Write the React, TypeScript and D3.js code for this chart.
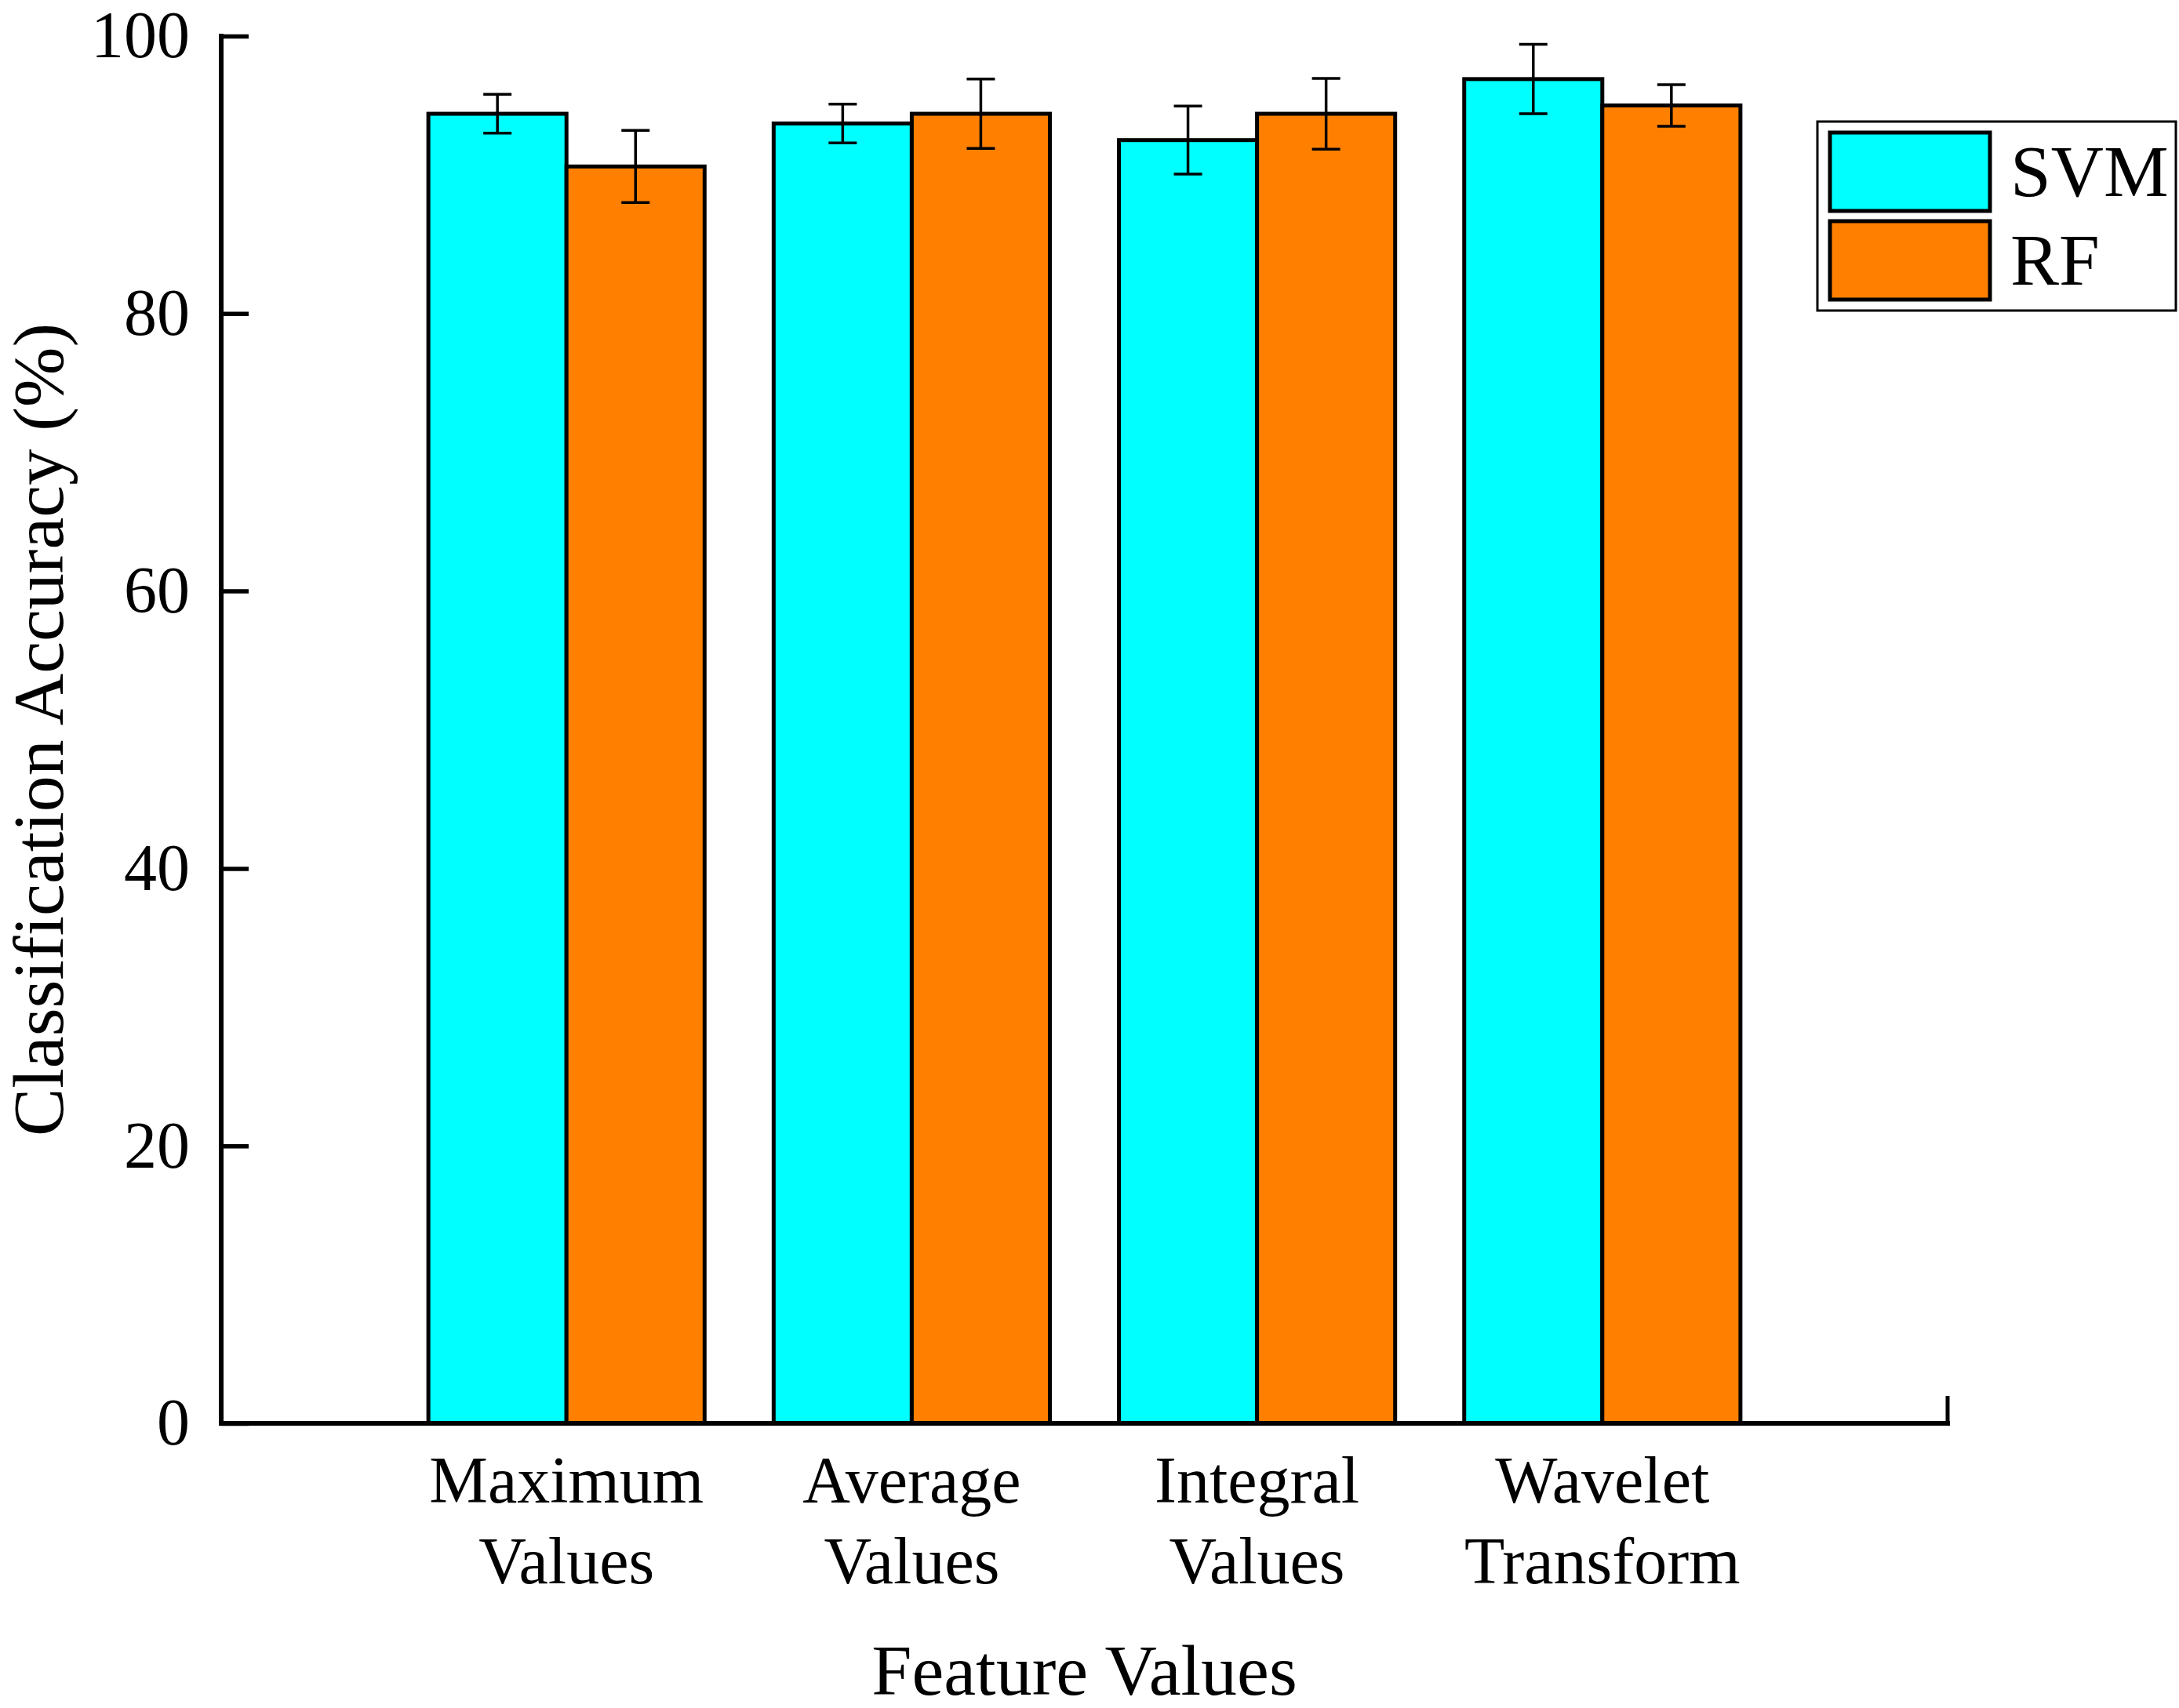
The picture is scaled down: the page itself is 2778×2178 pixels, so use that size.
import React, { useEffect, useRef } from 'react';
import * as d3 from 'd3';

// Feature groups (two-line tick labels)
const categories: string[][] = [
  ['Maximum', 'Values'],
  ['Average', 'Values'],
  ['Integral', 'Values'],
  ['Wavelet', 'Transform'],
];

const svmMean = [94.4, 93.7, 92.5, 96.9];
const svmErr = [1.4, 1.4, 2.45, 2.5];
const rfMean = [90.6, 94.4, 94.4, 95.0];
const rfErr = [2.6, 2.5, 2.55, 1.5];

const seriesNames = ['SVM', 'RF'];
const seriesColors = ['#00FFFF', '#FF8000'];
const yTicks = [0, 20, 40, 60, 80, 100];

const FONT = "'Liberation Serif', 'Times New Roman', serif";

function App() {
  const svgRef = useRef<SVGSVGElement>(null);
  const width = 2778;
  const height = 2178;

  useEffect(() => {
    if (!svgRef.current) return;
    const svg = d3.select(svgRef.current);
    svg.selectAll('*').remove();

    const left = 282;
    const right = 2483;
    const top = 46;
    const bottom = 1815;

    const x = d3.scaleLinear().domain([0, 5]).range([left, right]);
    const y = d3.scaleLinear().domain([0, 100]).range([bottom, top]);
    const barW = 0.4;

    const series = [
      { name: seriesNames[0], mean: svmMean, err: svmErr, color: seriesColors[0], off: -barW },
      { name: seriesNames[1], mean: rfMean, err: rfErr, color: seriesColors[1], off: 0 },
    ];

    // Bars
    series.forEach(s => {
      svg.append('g')
        .selectAll('rect')
        .data(s.mean)
        .enter().append('rect')
        .attr('x', (_, i) => x(i + 1 + s.off))
        .attr('y', d => y(d))
        .attr('width', x(barW) - x(0))
        .attr('height', d => y(0) - y(d))
        .attr('fill', s.color)
        .attr('stroke', '#000')
        .attr('stroke-width', 5);
    });

    // Error bars
    const cap = 18;
    series.forEach(s => {
      const g = svg.append('g').attr('stroke', '#000').attr('stroke-width', 3.5);
      s.mean.forEach((m, i) => {
        const cx = x(i + 1 + s.off + barW / 2);
        g.append('line').attr('x1', cx).attr('x2', cx).attr('y1', y(m + s.err[i])).attr('y2', y(m - s.err[i]));
        g.append('line').attr('x1', cx - cap).attr('x2', cx + cap).attr('y1', y(m + s.err[i])).attr('y2', y(m + s.err[i]));
        g.append('line').attr('x1', cx - cap).attr('x2', cx + cap).attr('y1', y(m - s.err[i])).attr('y2', y(m - s.err[i]));
      });
    });

    // Y axis (ticks pointing inward)
    const yAxis = svg.append('g')
      .attr('transform', `translate(${left},0)`)
      .call(d3.axisLeft(y).tickValues(yTicks).tickSizeInner(-35).tickSizeOuter(0).tickPadding(40));
    yAxis.select('.domain').attr('stroke-width', 6).attr('d', `M0,${bottom + 3}V${top - 3}`);
    yAxis.selectAll('.tick line').attr('stroke-width', 5.5);
    yAxis.selectAll('.tick text')
      .style('font-family', FONT)
      .style('font-size', '84px')
      .attr('fill', '#000');

    // X axis line with end tick
    svg.append('line')
      .attr('x1', left - 3).attr('x2', right + 3)
      .attr('y1', bottom).attr('y2', bottom)
      .attr('stroke', '#000').attr('stroke-width', 6);
    svg.append('line')
      .attr('x1', right).attr('x2', right)
      .attr('y1', bottom).attr('y2', bottom - 35)
      .attr('stroke', '#000').attr('stroke-width', 5);

    // Category labels
    const cat = svg.append('g')
      .style('font-family', FONT)
      .style('font-size', '84px')
      .attr('text-anchor', 'middle');
    categories.forEach((lines, i) => {
      const t = cat.append('text').attr('x', x(i + 1)).attr('y', 1916);
      lines.forEach((ln, j) => {
        t.append('tspan').attr('x', x(i + 1)).attr('y', 1916 + j * 103).text(ln);
      });
    });

    // Axis titles
    svg.append('text')
      .attr('x', (left + right) / 2)
      .attr('y', 2161)
      .attr('text-anchor', 'middle')
      .style('font-family', FONT)
      .style('font-size', '92px')
      .text('Feature Values');

    svg.append('text')
      .attr('transform', `translate(80,${(top + bottom) / 2}) rotate(-90)`)
      .attr('text-anchor', 'middle')
      .style('font-family', FONT)
      .style('font-size', '92px')
      .text('Classification Accuracy (%)');

    // Legend
    const lg = svg.append('g');
    lg.append('rect')
      .attr('x', 2317).attr('y', 155)
      .attr('width', 457).attr('height', 241)
      .attr('fill', '#fff').attr('stroke', '#000').attr('stroke-width', 3);
    series.forEach((s, i) => {
      const sy = 169 + i * 113;
      lg.append('rect')
        .attr('x', 2333).attr('y', sy)
        .attr('width', 204).attr('height', 100)
        .attr('fill', s.color).attr('stroke', '#000').attr('stroke-width', 5);
      lg.append('text')
        .attr('x', 2563).attr('y', sy + 81)
        .style('font-family', FONT)
        .style('font-size', '93px')
        .text(s.name);
    });
  }, []);

  return (
    <div style={{ position: 'absolute', left: 0, top: 0 }}>
      <svg ref={svgRef} width={width} height={height} style={{ display: 'block', background: '#fff' }}></svg>
    </div>
  );
}

export default App;
